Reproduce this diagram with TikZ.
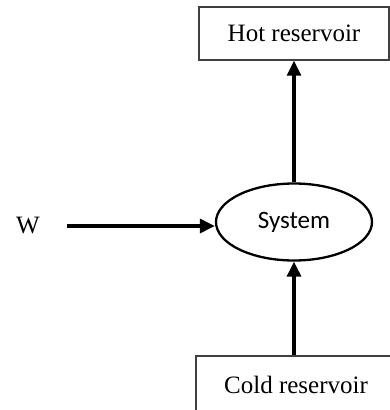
\documentclass[tikz,border=0pt]{standalone}
\usepackage{fontspec}
\setmainfont{Liberation Serif}
\newfontfamily\sysfont{Carlito}
\usetikzlibrary{shapes.geometric,arrows.meta}
\tikzset{
  resbox/.style={draw=black!75, line width=1.4pt, rectangle, inner sep=0pt, font=\fontsize{25}{29}\selectfont},
  sysnode/.style={draw, line width=2.3pt, ellipse, inner sep=0pt, minimum width=156pt, minimum height=77pt, font=\sysfont\fontsize{25}{29}\selectfont},
  flow/.style={line width=3.2pt, -{Triangle[length=15pt,width=14pt]}}
}
\begin{document}
\begin{tikzpicture}[x=1pt,y=-1pt]
\clip (0,0) rectangle (390,410);
\useasboundingbox (0,0) rectangle (390,410);
\node[resbox, minimum width=190pt, minimum height=53pt] (hot) at (294,33.5) {Hot reservoir};
\node[resbox, minimum width=200pt, minimum height=58pt] (cold) at (296,385) {Cold reservoir};
\node[sysnode] (sys) at (294,222) {System};
\node[font=\fontsize{25}{29}\selectfont] (w) at (28,226) {W};
\coordinate (wstart) at (67,226);
\draw[flow] (wstart) -- (wstart -| sys.west);
\draw[flow] (sys.north) -- (hot.south);
\draw[flow] (sys.south |- cold.north) -- (sys.south);
\end{tikzpicture}
\end{document}
